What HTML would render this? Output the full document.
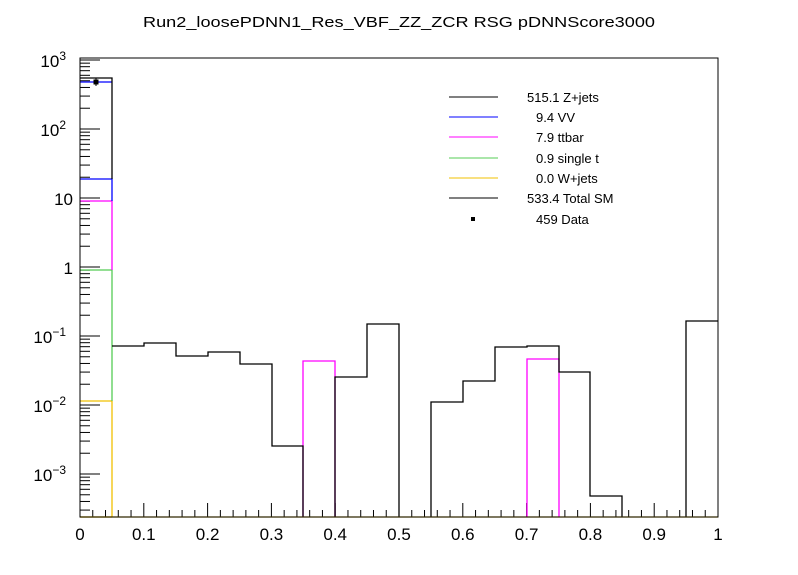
<!DOCTYPE html>
<html><head><meta charset="utf-8">
<style>html,body{margin:0;padding:0;background:#fff;}svg{display:block;font-family:"Liberation Sans",Arial,sans-serif;}</style>
</head><body>
<svg id="s" width="798" height="575" viewBox="0 0 798 575" xmlns="http://www.w3.org/2000/svg">
<rect width="798" height="575" fill="#fff"/>
<text x="399" y="27" font-size="15" text-anchor="middle" textLength="512" lengthAdjust="spacingAndGlyphs">Run2_loosePDNN1_Res_VBF_ZZ_ZCR RSG  pDNNScore3000</text>
<g id="ticks" stroke="#000" stroke-width="1"></g>
<!-- first bin components -->
<g fill="none" stroke-width="1.3">
<path d="M80,517 H112" stroke="#f0c000"/>
<path d="M80,401 H112 V517" stroke="#f0c000"/>
<path d="M80,270 H112 V401" stroke="#55cc55"/>
<path d="M80,201 H112 V270" stroke="#ff00ff"/>
<path d="M80,179 H112 V201" stroke="#0000ff"/>
<path d="M80,82 H112" stroke="#0000ff"/>
<path d="M80,78 H112 V179" stroke="#000"/>
<path d="M303,517 V361 H335 V517" stroke="#ff00ff"/>
<path d="M527,517 V359 H559 V517" stroke="#ff00ff"/>
<path d="M112,346 H144 V343 H176 V356 H208 V352 H240 V364 H272 V446 H303 V517" stroke="#000"/>
<path d="M335,517 V377 H367 V324 H399 V517" stroke="#000"/>
<path d="M431,517 V402 H463 V381 H495 V347 H527 V346 H559 V372 H590 V496 H622 V517" stroke="#000"/>
<path d="M686,517 V321 H718" stroke="#000"/>
<path d="M80,517 H718" stroke="#f0c000"/>
</g>
<rect x="80" y="58" width="638" height="459" fill="none" stroke="#000" stroke-width="1"/>
<!-- data -->
<line x1="96" y1="78" x2="96" y2="86" stroke="#000"/>
<rect x="93.5" y="79.5" width="5" height="5" fill="#000"/>
<!-- y labels -->
<g font-size="17" text-anchor="end">
<text x="66" y="67">10<tspan font-size="12" dy="-7">3</tspan></text>
<text x="66" y="136">10<tspan font-size="12" dy="-7">2</tspan></text>
<text x="73" y="205">10</text>
<text x="73" y="274">1</text>
<text x="66" y="343">10<tspan font-size="12" dy="-7">−1</tspan></text>
<text x="66" y="412">10<tspan font-size="12" dy="-7">−2</tspan></text>
<text x="66" y="481">10<tspan font-size="12" dy="-7">−3</tspan></text>
</g>
<g font-size="17" text-anchor="middle" id="xl"></g>
<!-- legend -->
<g font-size="13">
<line x1="449" y1="97" x2="498" y2="97" stroke="#000"/><text x="527" y="102">515.1 Z+jets</text>
<line x1="449" y1="117" x2="498" y2="117" stroke="#0000ff"/><text x="536" y="122">9.4 VV</text>
<line x1="449" y1="137" x2="498" y2="137" stroke="#ff00ff"/><text x="536" y="142">7.9 ttbar</text>
<line x1="449" y1="158" x2="498" y2="158" stroke="#55cc55"/><text x="536" y="163">0.9 single t</text>
<line x1="449" y1="178" x2="498" y2="178" stroke="#f0c000"/><text x="536" y="183">0.0 W+jets</text>
<line x1="449" y1="198" x2="498" y2="198" stroke="#000"/><text x="527" y="203">533.4 Total SM</text>
<rect x="471" y="217" width="4" height="4" fill="#000"/><text x="536" y="224">459 Data</text>
</g>
<script>
(function(){
var ns="http://www.w3.org/2000/svg",g=document.getElementById("ticks"),xl=document.getElementById("xl");
function L(x1,y1,x2,y2){var l=document.createElementNS(ns,"line");l.setAttribute("x1",x1);l.setAttribute("y1",y1);l.setAttribute("x2",x2);l.setAttribute("y2",y2);g.appendChild(l);}
for(var i=0;i<=50;i++){var x=80+i*638/50;var len=(i%5==0)?14:7;L(x,517,x,517-len);}
for(var k=0;k<=10;k++){var x=80+k*63.8;var t=document.createElementNS(ns,"text");t.setAttribute("x",x);t.setAttribute("y",540);t.textContent=(k==0?"0":k==10?"1":(k/10).toFixed(1));xl.appendChild(t);}
var d0=60,dec=69;
for(var e=-4;e<=3;e++){for(var m=1;m<=9;m++){var y=d0+(3-e)*dec-Math.log10(m)*dec;if(y<58||y>517)continue;L(80,y,80+(m==1?20:10),y);}}
})();
</script>
</svg>
</body></html>
